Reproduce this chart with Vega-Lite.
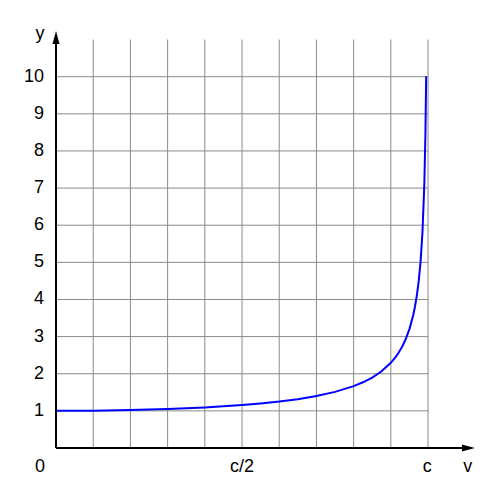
{
  "$schema": "https://vega.github.io/schema/vega-lite/v6.json",
  "description": "Lorentz factor y against speed v, rising from 1 at rest towards infinity as v approaches c.",
  "width": 439,
  "height": 427,
  "autosize": "none",
  "padding": {"left": 56, "top": 21, "right": 5, "bottom": 52},
  "config": {
    "view": {"stroke": null},
    "text": {"font": "Liberation Sans", "fontSize": 18, "color": "#000000"}
  },
  "datasets": {
    "grid": [
      {"x": 0.1, "x2": 0.1, "y": 0, "y2": 11},
      {"x": 0.2, "x2": 0.2, "y": 0, "y2": 11},
      {"x": 0.3, "x2": 0.3, "y": 0, "y2": 11},
      {"x": 0.4, "x2": 0.4, "y": 0, "y2": 11},
      {"x": 0.5, "x2": 0.5, "y": 0, "y2": 11},
      {"x": 0.6, "x2": 0.6, "y": 0, "y2": 11},
      {"x": 0.7, "x2": 0.7, "y": 0, "y2": 11},
      {"x": 0.8, "x2": 0.8, "y": 0, "y2": 11},
      {"x": 0.9, "x2": 0.9, "y": 0, "y2": 11},
      {"x": 1.0, "x2": 1.0, "y": 0, "y2": 11},
      {"x": 0, "x2": 1, "y": 1, "y2": 1},
      {"x": 0, "x2": 1, "y": 2, "y2": 2},
      {"x": 0, "x2": 1, "y": 3, "y2": 3},
      {"x": 0, "x2": 1, "y": 4, "y2": 4},
      {"x": 0, "x2": 1, "y": 5, "y2": 5},
      {"x": 0, "x2": 1, "y": 6, "y2": 6},
      {"x": 0, "x2": 1, "y": 7, "y2": 7},
      {"x": 0, "x2": 1, "y": 8, "y2": 8},
      {"x": 0, "x2": 1, "y": 9, "y2": 9},
      {"x": 0, "x2": 1, "y": 10, "y2": 10}
    ],
    "curve": [
      {"v": 0.0, "y": 1.0},
      {"v": 0.1, "y": 1.005},
      {"v": 0.2, "y": 1.021},
      {"v": 0.3, "y": 1.048},
      {"v": 0.4, "y": 1.091},
      {"v": 0.5, "y": 1.155},
      {"v": 0.55, "y": 1.197},
      {"v": 0.6, "y": 1.25},
      {"v": 0.65, "y": 1.316},
      {"v": 0.7, "y": 1.4},
      {"v": 0.75, "y": 1.512},
      {"v": 0.8, "y": 1.667},
      {"v": 0.825, "y": 1.77},
      {"v": 0.85, "y": 1.898},
      {"v": 0.875, "y": 2.065},
      {"v": 0.9, "y": 2.294},
      {"v": 0.91, "y": 2.412},
      {"v": 0.92, "y": 2.552},
      {"v": 0.93, "y": 2.72},
      {"v": 0.94, "y": 2.931},
      {"v": 0.95, "y": 3.203},
      {"v": 0.96, "y": 3.571},
      {"v": 0.965, "y": 3.81},
      {"v": 0.97, "y": 4.113},
      {"v": 0.975, "y": 4.5},
      {"v": 0.98, "y": 5.025},
      {"v": 0.985, "y": 5.807},
      {"v": 0.99, "y": 7.089},
      {"v": 0.993, "y": 8.47},
      {"v": 0.995, "y": 10.01}
    ],
    "axes": [
      {"x": 0, "x2": 1.1, "y": 0, "y2": 0},
      {"x": 0, "x2": 0, "y": 0, "y2": 11.0}
    ],
    "arrows": [
      {"x": 0, "y": 11.23, "a": 0},
      {"x": 1.126, "y": 0, "a": 90}
    ],
    "yticks": [
      {"y": 1, "t": "1"}, {"y": 2, "t": "2"}, {"y": 3, "t": "3"},
      {"y": 4, "t": "4"}, {"y": 5, "t": "5"}, {"y": 6, "t": "6"},
      {"y": 7, "t": "7"}, {"y": 8, "t": "8"}, {"y": 9, "t": "9"},
      {"y": 10, "t": "10"}
    ],
    "labels": [
      {"x": -0.043, "y": -0.647, "t": "0"},
      {"x": 0.5, "y": -0.647, "t": "c/2"},
      {"x": 0.998, "y": -0.647, "t": "c"},
      {"x": 1.107, "y": -0.647, "t": "v"},
      {"x": -0.043, "y": 11.02, "t": "y"}
    ]
  },
  "layer": [
    {
      "data": {"name": "grid"},
      "mark": {"type": "rule", "color": "#8a8a8a", "strokeWidth": 1},
      "encoding": {
        "x": {"field": "x", "type": "quantitative", "scale": {"domain": [0, 1.18], "nice": false, "zero": false}, "axis": null},
        "x2": {"field": "x2"},
        "y": {"field": "y", "type": "quantitative", "scale": {"domain": [0, 11.5], "nice": false, "zero": false}, "axis": null},
        "y2": {"field": "y2"}
      }
    },
    {
      "data": {"name": "curve"},
      "mark": {"type": "line", "color": "#0000ff", "strokeWidth": 2},
      "encoding": {
        "x": {"field": "v", "type": "quantitative"},
        "y": {"field": "y", "type": "quantitative"}
      }
    },
    {
      "data": {"name": "axes"},
      "mark": {"type": "rule", "color": "#000000", "strokeWidth": 2},
      "encoding": {
        "x": {"field": "x", "type": "quantitative"},
        "x2": {"field": "x2"},
        "y": {"field": "y", "type": "quantitative"},
        "y2": {"field": "y2"}
      }
    },
    {
      "data": {"name": "arrows"},
      "mark": {"type": "point", "shape": "M0,0L0.54,2L-0.54,2Z", "filled": true, "color": "#000000", "opacity": 1, "size": 169},
      "encoding": {
        "x": {"field": "x", "type": "quantitative"},
        "y": {"field": "y", "type": "quantitative"},
        "angle": {"field": "a", "type": "quantitative", "scale": null}
      }
    },
    {
      "data": {"name": "yticks"},
      "mark": {"type": "text", "align": "right", "baseline": "middle", "dx": -12},
      "encoding": {
        "x": {"datum": 0, "type": "quantitative"},
        "y": {"field": "y", "type": "quantitative"},
        "text": {"field": "t"}
      }
    },
    {
      "data": {"name": "labels"},
      "mark": {"type": "text", "align": "center", "baseline": "alphabetic"},
      "encoding": {
        "x": {"field": "x", "type": "quantitative"},
        "y": {"field": "y", "type": "quantitative"},
        "text": {"field": "t"}
      }
    }
  ]
}
